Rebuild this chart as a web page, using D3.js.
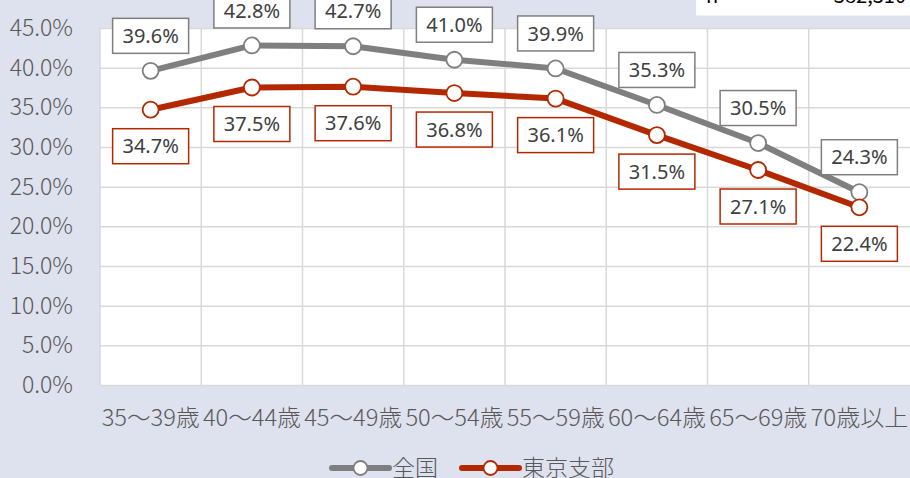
<!DOCTYPE html>
<html>
<head>
<meta charset="utf-8">
<script src="https://cdn.jsdelivr.net/npm/d3@7"></script>
<style>
  body { margin: 0; background: #dee1ee; }
  svg { display: block; }
</style>
</head>
<body>
<script>
const categories = ['35～39歳', '40～44歳', '45～49歳', '50～54歳', '55～59歳', '60～64歳', '65～69歳', '70歳以上']
const zenkoku = [39.6, 42.8, 42.7, 41.0, 39.9, 35.3, 30.5, 24.3]
const tokyo = [34.7, 37.5, 37.6, 36.8, 36.1, 31.5, 27.1, 22.4]
const seriesNames = ['全国', '東京支部']
const yTicks = [0, 5, 10, 15, 20, 25, 30, 35, 40, 45]

const width = 910
const height = 478
const plotLeft = 100
const plotRight = 910
const plotTop = 28
const plotBottom = 385

const jp = '"Noto Sans CJK JP", "Noto Sans", sans-serif'

const svg = d3.select('body')
  .append('svg')
  .attr('width', width)
  .attr('height', height)

svg.append('rect')
  .attr('width', width)
  .attr('height', height)
  .attr('fill', '#dee1ee')

// white box top right (cut off in the source)
svg.append('rect')
  .attr('x', 696)
  .attr('y', -20)
  .attr('width', 220)
  .attr('height', 35.5)
  .attr('fill', '#fff')
svg.append('text')
  .attr('x', 706)
  .attr('y', 3)
  .attr('font-family', jp)
  .attr('font-size', 20)
  .attr('fill', '#000')
  .text('n')
svg.append('text')
  .attr('x', 906)
  .attr('y', 3)
  .attr('text-anchor', 'end')
  .attr('font-family', jp)
  .attr('font-size', 20)
  .attr('fill', '#000')
  .text('382,310')

const x = d3.scaleBand().domain(categories).range([plotLeft, plotRight])
const y = d3.scaleLinear().domain([0, 45]).range([plotBottom, plotTop])

svg.append('rect')
  .attr('x', plotLeft)
  .attr('y', plotTop)
  .attr('width', plotRight - plotLeft)
  .attr('height', plotBottom - plotTop)
  .attr('fill', '#fff')

// horizontal gridlines + y labels
const yAxis = svg.append('g')
  .attr('transform', `translate(${plotLeft},0)`)
  .call(d3.axisLeft(y)
    .tickValues(yTicks)
    .tickSize(-(plotRight - plotLeft))
    .tickPadding(27)
    .tickFormat(d => d.toFixed(1) + '%'))
yAxis.select('.domain').remove()
yAxis.selectAll('line').attr('stroke', '#d9d9d9').attr('stroke-width', 1.5)
yAxis.selectAll('text')
  .attr('font-family', jp)
  .attr('font-weight', 300)
  .attr('font-size', 23)
  .attr('fill', '#595959')

// vertical gridlines
svg.append('g')
  .selectAll('line')
  .data(categories)
  .enter()
  .append('line')
  .attr('x1', d => x(d))
  .attr('x2', d => x(d))
  .attr('y1', plotTop)
  .attr('y2', plotBottom)
  .attr('stroke', '#d9d9d9')
  .attr('stroke-width', 1.5)

// x labels
const xAxis = svg.append('g')
  .attr('transform', `translate(0,${plotBottom})`)
  .call(d3.axisBottom(x).tickSize(0).tickPadding(25))
xAxis.select('.domain').remove()
xAxis.selectAll('text')
  .attr('font-family', jp)
  .attr('font-weight', 300)
  .attr('font-size', 23)
  .attr('fill', '#595959')
  .attr('textLength', 98)
  .attr('lengthAdjust', 'spacingAndGlyphs')

const series = [
  { name: seriesNames[0], values: zenkoku, color: '#7f7f7f', labelDy: -35 },
  { name: seriesNames[1], values: tokyo, color: '#b42800', labelDy: 36.5 }
]

const line = d3.line()
  .x((d, i) => x(categories[i]) + x.bandwidth() / 2)
  .y(d => y(d))

series.forEach(s => {
  const g = svg.append('g')
  g.append('path')
    .datum(s.values)
    .attr('d', line)
    .attr('fill', 'none')
    .attr('stroke', s.color)
    .attr('stroke-width', 6)
    .attr('stroke-linejoin', 'round')

  g.selectAll('circle')
    .data(s.values)
    .enter()
    .append('circle')
    .attr('cx', (d, i) => x(categories[i]) + x.bandwidth() / 2)
    .attr('cy', d => y(d))
    .attr('r', 8)
    .attr('fill', '#fff')
    .attr('stroke', s.color)
    .attr('stroke-width', 1.8)
})

// data labels
series.forEach(s => {
  const lab = svg.append('g')
    .selectAll('g')
    .data(s.values)
    .enter()
    .append('g')
    .attr('transform', (d, i) => `translate(${x(categories[i]) + x.bandwidth() / 2},${y(d) + s.labelDy})`)

  lab.append('rect')
    .attr('x', -38)
    .attr('y', -17.5)
    .attr('width', 76)
    .attr('height', 35)
    .attr('fill', '#fff')
    .attr('stroke', s.color)
    .attr('stroke-width', 1.5)

  lab.append('text')
    .attr('text-anchor', 'middle')
    .attr('dy', '0.36em')
    .attr('font-family', '"Noto Sans", sans-serif')
    .attr('font-size', 20)
    .attr('fill', '#404040')
    .text(d => d.toFixed(1) + '%')
})

// legend
const legendItems = [
  { name: seriesNames[0], color: '#7f7f7f', x0: 332 },
  { name: seriesNames[1], color: '#b42800', x0: 462 }
]
const legend = svg.append('g')
  .selectAll('g')
  .data(legendItems)
  .enter()
  .append('g')
  .attr('transform', d => `translate(${d.x0},468)`)

legend.append('line')
  .attr('x1', 0)
  .attr('x2', 57)
  .attr('stroke', d => d.color)
  .attr('stroke-width', 6)
  .attr('stroke-linecap', 'round')
legend.append('circle')
  .attr('cx', 28.5)
  .attr('r', 7)
  .attr('fill', '#fff')
  .attr('stroke', d => d.color)
  .attr('stroke-width', 1.8)
legend.append('text')
  .attr('x', 60)
  .attr('y', 8)
  .attr('font-family', jp)
  .attr('font-weight', 300)
  .attr('font-size', 23)
  .attr('fill', '#595959')
  .text(d => d.name)
</script>
</body>
</html>
